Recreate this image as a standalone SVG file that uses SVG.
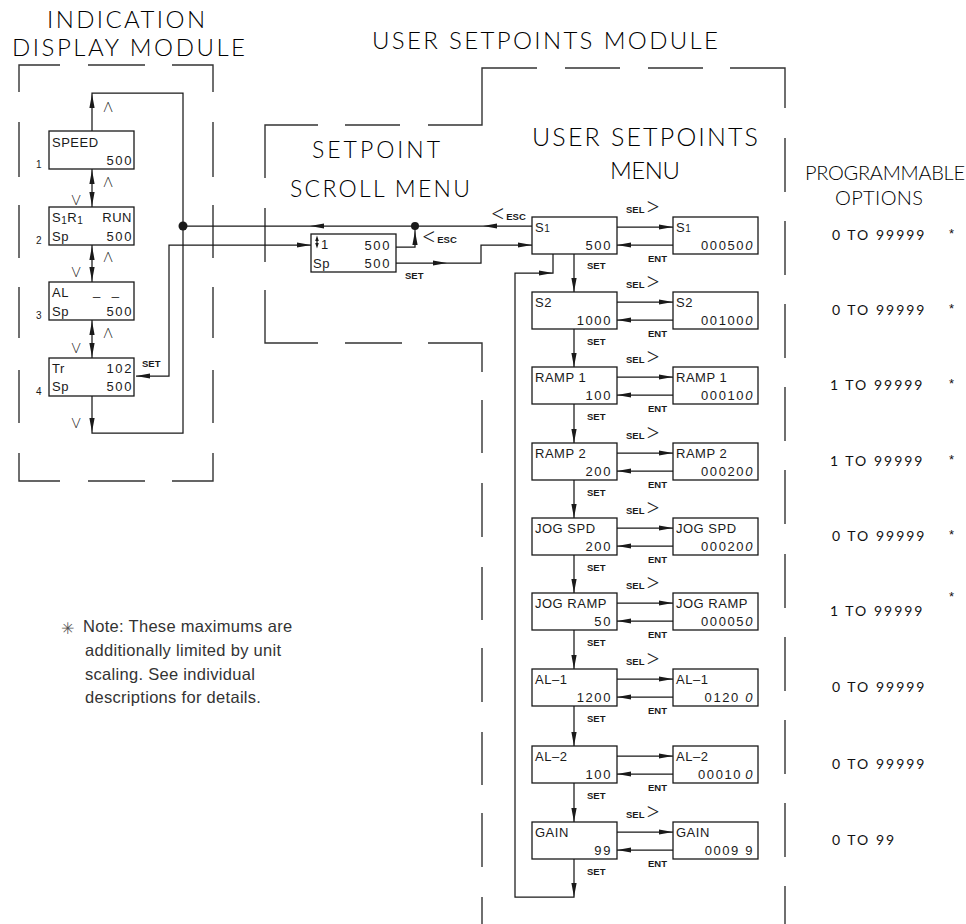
<svg xmlns="http://www.w3.org/2000/svg" xmlns:xlink="http://www.w3.org/1999/xlink" width="966" height="924" viewBox="0 0 966 924">
<style>
.bg{fill:#fff}
.bx{fill:#fff;stroke:#1a1a1a;stroke-width:1.3}
.ln{fill:none;stroke:#1a1a1a;stroke-width:1.25}
.dash{fill:none;stroke:#333;stroke-width:1.4}
.ah{fill:#1a1a1a}
.t{font-family:"Liberation Sans",Arial,sans-serif;font-size:13px;fill:#1a1a1a;letter-spacing:0.5px}
.n{letter-spacing:1.6px;text-anchor:end}
.num{font-family:"Liberation Sans",Arial,sans-serif;font-size:10px;fill:#1a1a1a}
.lb{font-family:"Liberation Sans",Arial,sans-serif;font-size:9.5px;font-weight:bold;fill:#1a1a1a}
.chev{font-family:Lato,Inter,"DejaVu Sans",sans-serif;font-weight:300;font-size:28px}
.ttl{font-family:Lato,Inter,"DejaVu Sans",sans-serif;font-weight:300;fill:#000}
.opt{font-family:Lato,Inter,"DejaVu Sans",sans-serif;font-weight:400;font-size:14px;fill:#111;letter-spacing:2px}
.ast{font-family:"Liberation Sans",Arial,sans-serif;font-size:13px;fill:#111}
.sym{font-family:Lato,Inter,"DejaVu Sans",sans-serif;font-weight:300;font-size:14px;fill:#1a1a1a;text-anchor:middle}
.note{font-family:"Liberation Sans",Arial,sans-serif;font-size:16.5px;fill:#333;letter-spacing:0.3px}
</style>
<defs>
<path id="ah" class="ah" d="M0,0 L-14,-2.6 L-14,2.6 Z"/>
</defs>
<rect class="bg" x="0" y="0" width="966" height="924"/>

<g id="titles">
<text class="ttl" x="47" y="28" font-size="24" textLength="158" lengthAdjust="spacing">INDICATION</text>
<text class="ttl" x="12" y="56" font-size="24" textLength="233" lengthAdjust="spacing">DISPLAY MODULE</text>
<text class="ttl" x="372" y="49" font-size="24" textLength="346" lengthAdjust="spacing">USER SETPOINTS MODULE</text>
<text class="ttl" x="312" y="158" font-size="23" textLength="128" lengthAdjust="spacing">SETPOINT</text>
<text class="ttl" x="290" y="197" font-size="23" textLength="180" lengthAdjust="spacing">SCROLL MENU</text>
<text class="ttl" x="532" y="146" font-size="25" textLength="226" lengthAdjust="spacing">USER SETPOINTS</text>
<text class="ttl" x="610" y="179" font-size="24" textLength="70" lengthAdjust="spacing">MENU</text>
<text class="ttl" x="805" y="180" font-size="20" textLength="160" lengthAdjust="spacing">PROGRAMMABLE</text>
<text class="ttl" x="835" y="205" font-size="20" textLength="88" lengthAdjust="spacing">OPTIONS</text>
</g>

<g id="boundaries">
<path class="dash" d="M19,92 V65 H60 M88,65 H145 M172,65 H213 V92 M19,122 V177 M19,205 V258 M19,287 V338 M19,370 V423 M19,453 V481 H60 M88,481 H145 M172,481 H213 V453 M213,122 V177 M213,205 V258 M213,287 V338 M213,370 V423"/>
<path class="dash" d="M265,178 V125 H318 M345,125 H400 M428,125 H482 V68 H537 M565,68 H620 M648,68 H703 M730,68 H785 V108 M785,138 V192 M785,221 V275 M785,304 V358 M785,387 V441 M785,470 V524 M785,554 V608 M785,637 V691 M785,720 V774 M785,803 V857 M785,886 V924"/>
<path class="dash" d="M265,208 V262 M265,290 V343 H318 M345,343 H402 M428,343 H482 V372 M482,400 V453 M482,483 V537 M482,567 V620 M482,648 V702 M482,732 V785 M482,813 V867 M482,897 V924"/>
</g>

<g id="connectors">
<path class="ln" d="M92,131 V93 H183 V433 H92 V396"/>
<path class="ln" d="M92,169 V207 M92,245 V282 M92,320 V358"/>
<path class="ln" d="M183,226 H532"/>
<path class="ln" d="M396,247 H415 V226"/>
<path class="ln" d="M396,263 H481 V245 H532"/>
<path class="ln" d="M136,376 H169 V245 H311"/>
<path class="ln" d="M574,254 V292 M574,329 V367 M574,404 V443 M574,480 V518 M574,555 V593 M574,630 V669 M574,706 V746 M574,783 V822"/>
<path class="ln" d="M574,859 V897 H515 V273 H553 V254"/>
<path class="ln" d="M617,227 H673 M673,245 H617 M617,302 H673 M673,320 H617 M617,377 H673 M673,395 H617 M617,453 H673 M673,471 H617 M617,528 H673 M673,546 H617 M617,603 H673 M673,621 H617 M617,679 H673 M673,697 H617 M617,756 H673 M673,774 H617 M617,832 H673 M673,850 H617"/>
<circle cx="183" cy="226" r="4.5" class="ah"/>
<circle cx="415" cy="226" r="4" class="ah"/>
<use xlink:href="#ah" transform="translate(92,94) rotate(-90)"/>
<use xlink:href="#ah" transform="translate(92,432) rotate(90)"/>
<use xlink:href="#ah" transform="translate(92,170) rotate(-90)"/>
<use xlink:href="#ah" transform="translate(92,206) rotate(90)"/>
<use xlink:href="#ah" transform="translate(92,246) rotate(-90)"/>
<use xlink:href="#ah" transform="translate(92,281) rotate(90)"/>
<use xlink:href="#ah" transform="translate(92,321) rotate(-90)"/>
<use xlink:href="#ah" transform="translate(92,357) rotate(90)"/>
<use xlink:href="#ah" transform="translate(136,376) rotate(180)"/>
<use xlink:href="#ah" transform="translate(311,245)"/>
<use xlink:href="#ah" transform="translate(310,226) rotate(180)"/>
<use xlink:href="#ah" transform="translate(483,226) rotate(180)"/>
<use xlink:href="#ah" transform="translate(415,231) rotate(-90)"/>
<use xlink:href="#ah" transform="translate(447,263)"/>
<use xlink:href="#ah" transform="translate(532,245)"/>
<use xlink:href="#ah" transform="translate(553,273)"/>
<use xlink:href="#ah" transform="translate(574,292) rotate(90)"/>
<use xlink:href="#ah" transform="translate(574,367) rotate(90)"/>
<use xlink:href="#ah" transform="translate(574,443) rotate(90)"/>
<use xlink:href="#ah" transform="translate(574,518) rotate(90)"/>
<use xlink:href="#ah" transform="translate(574,593) rotate(90)"/>
<use xlink:href="#ah" transform="translate(574,669) rotate(90)"/>
<use xlink:href="#ah" transform="translate(574,746) rotate(90)"/>
<use xlink:href="#ah" transform="translate(574,822) rotate(90)"/>
<use xlink:href="#ah" transform="translate(574,897) rotate(90)"/>
<use xlink:href="#ah" transform="translate(673,227)"/>
<use xlink:href="#ah" transform="translate(617,245) rotate(180)"/>
<use xlink:href="#ah" transform="translate(673,302)"/>
<use xlink:href="#ah" transform="translate(617,320) rotate(180)"/>
<use xlink:href="#ah" transform="translate(673,377)"/>
<use xlink:href="#ah" transform="translate(617,395) rotate(180)"/>
<use xlink:href="#ah" transform="translate(673,453)"/>
<use xlink:href="#ah" transform="translate(617,471) rotate(180)"/>
<use xlink:href="#ah" transform="translate(673,528)"/>
<use xlink:href="#ah" transform="translate(617,546) rotate(180)"/>
<use xlink:href="#ah" transform="translate(673,603)"/>
<use xlink:href="#ah" transform="translate(617,621) rotate(180)"/>
<use xlink:href="#ah" transform="translate(673,679)"/>
<use xlink:href="#ah" transform="translate(617,697) rotate(180)"/>
<use xlink:href="#ah" transform="translate(673,756)"/>
<use xlink:href="#ah" transform="translate(617,774) rotate(180)"/>
<use xlink:href="#ah" transform="translate(673,832)"/>
<use xlink:href="#ah" transform="translate(617,850) rotate(180)"/>
</g>

<g id="connector-labels">
<text class="sym" x="108" y="112">Λ</text>
<text class="sym" x="108" y="187">Λ</text>
<text class="sym" x="108" y="262">Λ</text>
<text class="sym" x="108" y="338">Λ</text>
<text class="sym" x="76" y="205">V</text>
<text class="sym" x="76" y="277">V</text>
<text class="sym" x="76" y="353">V</text>
<text class="sym" x="76" y="428">V</text>
<text class="lb" x="142" y="367">SET</text>
<text class="lb" x="405" y="279">SET</text>
<text class="lb" x="421" y="243"><tspan class="chev" dy="3">&lt;</tspan><tspan dy="-3">ESC</tspan></text>
<text class="lb" x="490" y="220"><tspan class="chev" dy="3">&lt;</tspan><tspan dy="-3">ESC</tspan></text>
<text class="lb" x="587" y="269">SET</text>
<text class="lb" x="587" y="345">SET</text>
<text class="lb" x="587" y="420">SET</text>
<text class="lb" x="587" y="496">SET</text>
<text class="lb" x="587" y="571">SET</text>
<text class="lb" x="587" y="646">SET</text>
<text class="lb" x="587" y="722">SET</text>
<text class="lb" x="587" y="799">SET</text>
<text class="lb" x="587" y="875">SET</text>
<text class="lb" x="626" y="213">SEL<tspan class="chev" dy="3">&gt;</tspan></text>
<text class="lb" x="626" y="288">SEL<tspan class="chev" dy="3">&gt;</tspan></text>
<text class="lb" x="626" y="363">SEL<tspan class="chev" dy="3">&gt;</tspan></text>
<text class="lb" x="626" y="439">SEL<tspan class="chev" dy="3">&gt;</tspan></text>
<text class="lb" x="626" y="514">SEL<tspan class="chev" dy="3">&gt;</tspan></text>
<text class="lb" x="626" y="589">SEL<tspan class="chev" dy="3">&gt;</tspan></text>
<text class="lb" x="626" y="665">SEL<tspan class="chev" dy="3">&gt;</tspan></text>
<text class="lb" x="626" y="818">SEL<tspan class="chev" dy="3">&gt;</tspan></text>
<text class="lb" x="648" y="262">ENT</text>
<text class="lb" x="648" y="337">ENT</text>
<text class="lb" x="648" y="412">ENT</text>
<text class="lb" x="648" y="488">ENT</text>
<text class="lb" x="648" y="563">ENT</text>
<text class="lb" x="648" y="638">ENT</text>
<text class="lb" x="648" y="714">ENT</text>
<text class="lb" x="648" y="791">ENT</text>
<text class="lb" x="648" y="867">ENT</text>
</g>

<g id="disp-1">
<rect class="bx" x="49" y="131" width="85" height="38"/>
<text class="t" x="52" y="147">SPEED</text>
<text class="t n" x="133" y="165">500</text>
<text class="num" x="36" y="168">1</text>
</g>
<g id="disp-2">
<rect class="bx" x="49" y="207" width="85" height="38"/>
<text class="t" x="52" y="222">S<tspan font-size="10" dy="2">1</tspan><tspan dy="-2">R</tspan><tspan font-size="10" dy="2">1</tspan></text>
<text class="t" x="132" y="222" text-anchor="end">RUN</text>
<text class="t" x="52" y="241">Sp</text>
<text class="t n" x="133" y="241">500</text>
<text class="num" x="36" y="244">2</text>
</g>
<g id="disp-3">
<rect class="bx" x="49" y="282" width="85" height="38"/>
<text class="t" x="52" y="297">AL</text>
<text class="t" x="93" y="295" style="letter-spacing:4px">_ _</text>
<text class="t" x="52" y="316">Sp</text>
<text class="t n" x="133" y="316">500</text>
<text class="num" x="36" y="319">3</text>
</g>
<g id="disp-4">
<rect class="bx" x="49" y="358" width="85" height="38"/>
<text class="t" x="52" y="373">Tr</text>
<text class="t n" x="133" y="373">102</text>
<text class="t" x="52" y="391">Sp</text>
<text class="t n" x="133" y="391">500</text>
<text class="num" x="36" y="395">4</text>
</g>

<g id="scroll">
<rect class="bx" x="311" y="234" width="85" height="38"/>
<path class="ln" d="M317,239 V245"/>
<path class="ah" d="M317,235.5 L315.2,241 L318.8,241 Z M317,248.5 L315.2,243 L318.8,243 Z"/>
<text class="t" x="321" y="249" font-size="11">1</text>
<text class="t n" x="391" y="250" font-size="14">500</text>
<text class="t" x="313" y="268" font-size="14">Sp</text>
<text class="t n" x="391" y="268" font-size="14">500</text>
</g>

<g id="menu-s1">
<rect class="bx" x="532" y="217" width="85" height="37"/>
<text class="t" x="535" y="232">S<tspan font-size="10">1</tspan></text>
<text class="t n" x="612" y="250">500</text>
</g>
<g id="edit-s1">
<rect class="bx" x="673" y="217" width="85" height="37"/>
<text class="t" x="676" y="232">S<tspan font-size="10">1</tspan></text>
<text class="t n" x="754" y="250">00050<tspan font-style="italic">0</tspan></text>
</g>
<g id="menu-s2">
<rect class="bx" x="532" y="292" width="85" height="37"/>
<text class="t" x="535" y="307">S2</text>
<text class="t n" x="612" y="325">1000</text>
</g>
<g id="edit-s2">
<rect class="bx" x="673" y="292" width="85" height="37"/>
<text class="t" x="676" y="307">S2</text>
<text class="t n" x="754" y="325">00100<tspan font-style="italic">0</tspan></text>
</g>
<g id="menu-ramp1">
<rect class="bx" x="532" y="367" width="85" height="37"/>
<text class="t" x="535" y="382">RAMP 1</text>
<text class="t n" x="612" y="400">100</text>
</g>
<g id="edit-ramp1">
<rect class="bx" x="673" y="367" width="85" height="37"/>
<text class="t" x="676" y="382">RAMP 1</text>
<text class="t n" x="754" y="400">00010<tspan font-style="italic">0</tspan></text>
</g>
<g id="menu-ramp2">
<rect class="bx" x="532" y="443" width="85" height="37"/>
<text class="t" x="535" y="458">RAMP 2</text>
<text class="t n" x="612" y="476">200</text>
</g>
<g id="edit-ramp2">
<rect class="bx" x="673" y="443" width="85" height="37"/>
<text class="t" x="676" y="458">RAMP 2</text>
<text class="t n" x="754" y="476">00020<tspan font-style="italic">0</tspan></text>
</g>
<g id="menu-jogspd">
<rect class="bx" x="532" y="518" width="85" height="37"/>
<text class="t" x="535" y="533">JOG SPD</text>
<text class="t n" x="612" y="551">200</text>
</g>
<g id="edit-jogspd">
<rect class="bx" x="673" y="518" width="85" height="37"/>
<text class="t" x="676" y="533">JOG SPD</text>
<text class="t n" x="754" y="551">00020<tspan font-style="italic">0</tspan></text>
</g>
<g id="menu-jogramp">
<rect class="bx" x="532" y="593" width="85" height="37"/>
<text class="t" x="535" y="608">JOG RAMP</text>
<text class="t n" x="612" y="626">50</text>
</g>
<g id="edit-jogramp">
<rect class="bx" x="673" y="593" width="85" height="37"/>
<text class="t" x="676" y="608">JOG RAMP</text>
<text class="t n" x="754" y="626">00005<tspan font-style="italic">0</tspan></text>
</g>
<g id="menu-al1">
<rect class="bx" x="532" y="669" width="85" height="37"/>
<text class="t" x="535" y="684">AL–1</text>
<text class="t n" x="612" y="702">1200</text>
</g>
<g id="edit-al1">
<rect class="bx" x="673" y="669" width="85" height="37"/>
<text class="t" x="676" y="684">AL–1</text>
<text class="t n" x="754" y="702">0120 <tspan font-style="italic">0</tspan></text>
</g>
<g id="menu-al2">
<rect class="bx" x="532" y="746" width="85" height="37"/>
<text class="t" x="535" y="761">AL–2</text>
<text class="t n" x="612" y="779">100</text>
</g>
<g id="edit-al2">
<rect class="bx" x="673" y="746" width="85" height="37"/>
<text class="t" x="676" y="761">AL–2</text>
<text class="t n" x="754" y="779">00010<tspan dx="3" font-style="italic">0</tspan></text>
</g>
<g id="menu-gain">
<rect class="bx" x="532" y="822" width="85" height="37"/>
<text class="t" x="535" y="837">GAIN</text>
<text class="t n" x="612" y="855">99</text>
</g>
<g id="edit-gain">
<rect class="bx" x="673" y="822" width="85" height="37"/>
<text class="t" x="676" y="837">GAIN</text>
<text class="t n" x="754" y="855">0009 9</text>
</g>

<g id="options">
<text class="opt" x="832" y="240">0 TO 99999</text><text class="ast" x="949" y="238">*</text>
<text class="opt" x="832" y="315">0 TO 99999</text><text class="ast" x="949" y="313">*</text>
<text class="opt" x="830" y="390">1 TO 99999</text><text class="ast" x="949" y="388">*</text>
<text class="opt" x="830" y="466">1 TO 99999</text><text class="ast" x="949" y="464">*</text>
<text class="opt" x="832" y="541">0 TO 99999</text><text class="ast" x="949" y="539">*</text>
<text class="opt" x="830" y="616">1 TO 99999</text><text class="ast" x="949" y="601">*</text>
<text class="opt" x="832" y="692">0 TO 99999</text>
<text class="opt" x="832" y="769">0 TO 99999</text>
<text class="opt" x="832" y="845">0 TO 99</text>
</g>

<g id="note">
<text x="61" y="634" font-family="'DejaVu Sans',sans-serif" font-size="16" fill="#555">✳</text>
<text class="note" x="83" y="632">Note: These maximums are</text>
<text class="note" x="85" y="656">additionally limited by unit</text>
<text class="note" x="85" y="680">scaling. See individual</text>
<text class="note" x="85" y="703">descriptions for details.</text>
</g>
</svg>
